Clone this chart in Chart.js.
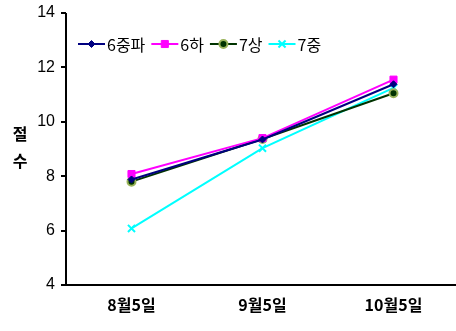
<!DOCTYPE html>
<html>
<head>
<meta charset="utf-8">
<script src="https://cdn.jsdelivr.net/npm/chart.js@4.4.1/dist/chart.umd.min.js"></script>
<style>
  html, body { margin: 0; padding: 0; background: #fff; overflow: hidden; width: 456px; height: 331px; }
  #wrap { width: 466px; height: 331px; }
</style>
</head>
<body>
<div id="wrap"><canvas id="c" width="466" height="331"></canvas></div>
<script>
const categories = ['8월5일', '9월5일', '10월5일'];
const seriesNames = ['6중파', '6하', '7상', '7중'];
const s6jungpa = [7.88, 9.35, 11.38];
const s6ha = [8.08, 9.40, 11.55];
const s7sang = [7.80, 9.37, 11.05];
const s7jung = [6.08, 9.03, 11.25];
const yTicks = [4, 6, 8, 10, 12, 14];
const yTitle = ['절', '수'];

const KR = '"Noto Sans CJK KR", "Liberation Sans", sans-serif';

// Legend drawn inside the plot area, along the top-left
const inlineLegend = {
  id: 'inlineLegend',
  afterDraw(chart) {
    const ctx = chart.ctx;
    let x = 78;
    const y = 44;
    ctx.save();
    ctx.font = '16px ' + KR;
    ctx.textBaseline = 'middle';
    chart.data.datasets.forEach(ds => {
      ctx.strokeStyle = ds.borderColor;
      ctx.lineWidth = 2;
      ctx.beginPath();
      ctx.moveTo(x, y);
      ctx.lineTo(x + 27, y);
      ctx.stroke();
      ctx.fillStyle = ds.pointBackgroundColor;
      ctx.strokeStyle = ds.pointBorderColor;
      ctx.lineWidth = ds.pointBorderWidth;
      Chart.helpers.drawPoint(ctx, {
        pointStyle: ds.pointStyle,
        radius: ds.pointRadius,
        borderWidth: ds.pointBorderWidth,
        rotation: 0
      }, x + 13.5, y);
      ctx.fillStyle = '#000';
      ctx.fillText(ds.label, x + 29, y + 1);
      x += 29 + ctx.measureText(ds.label).width + 6;
    });
    ctx.restore();
  }
};

// Solid black axis lines and the vertical, stacked y-axis title
const axisFrame = {
  id: 'axisFrame',
  afterDraw(chart) {
    const ctx = chart.ctx;
    const a = chart.chartArea;
    ctx.save();
    ctx.fillStyle = '#000';
    ctx.fillRect(Math.round(a.left) - 1, Math.round(a.top), 2, Math.round(a.bottom - a.top) + 1);
    ctx.fillRect(Math.round(a.left) - 1, Math.round(a.bottom) - 1, Math.round(a.right - a.left) + 2, 2);
    chart.scales.y.ticks.forEach(t => {
      const py = Math.round(chart.scales.y.getPixelForValue(t.value));
      ctx.fillRect(Math.round(a.left) - 5, py - 1, 5, 2);
    });
    ctx.font = 'bold 16px ' + KR;
    ctx.textAlign = 'center';
    ctx.textBaseline = 'middle';
    yTitle.forEach((ch, i) => ctx.fillText(ch, 20, 134 + i * 27));
    ctx.restore();
  }
};

new Chart(document.getElementById('c'), {
  type: 'line',
  data: {
    labels: categories,
    datasets: [
      { label: seriesNames[0], data: s6jungpa, borderColor: '#000080', borderWidth: 2,
        pointStyle: 'rectRot', pointRadius: 3.5, pointBackgroundColor: '#000080', pointBorderColor: '#000080', pointBorderWidth: 1 },
      { label: seriesNames[1], data: s6ha, borderColor: '#FF00FF', borderWidth: 2,
        pointStyle: 'rect', pointRadius: 5, pointBackgroundColor: '#FF00FF', pointBorderColor: '#FF00FF', pointBorderWidth: 1 },
      { label: seriesNames[2], data: s7sang, borderColor: '#003300', borderWidth: 2,
        pointStyle: 'circle', pointRadius: 4, pointBackgroundColor: '#003300', pointBorderColor: '#99B35A', pointBorderWidth: 2 },
      { label: seriesNames[3], data: s7jung, borderColor: '#00FFFF', borderWidth: 2,
        pointStyle: 'crossRot', pointRadius: 5, pointBackgroundColor: '#00FFFF', pointBorderColor: '#00FFFF', pointBorderWidth: 2 }
    ]
  },
  options: {
    responsive: false,
    animation: false,
    events: [],
    layout: { padding: { top: 13, right: 1, left: 0, bottom: 0 } },
    plugins: { legend: { display: false }, tooltip: { enabled: false } },
    elements: { line: { tension: 0 } },
    scales: {
      x: {
        type: 'category',
        offset: true,
        afterFit: s => { s.height = 46; s.paddingLeft = 0; s.paddingRight = 0; },
        grid: { display: false, drawTicks: false },
        border: { display: false },
        ticks: { color: '#000', font: { family: KR, size: 16, weight: 'bold' }, padding: 10, maxRotation: 0 }
      },
      y: {
        min: 4, max: 14,
        afterFit: s => { s.width = 66; s.paddingTop = 0; s.paddingBottom = 0; },
        afterBuildTicks: s => { s.ticks = yTicks.map(v => ({ value: v })); },
        grid: { display: false, drawTicks: false },
        border: { display: false },
        ticks: { color: '#000', font: { family: '"Liberation Sans", Arial, sans-serif', size: 16 }, padding: 11 }
      }
    }
  },
  plugins: [inlineLegend, axisFrame]
});
</script>
</body>
</html>
